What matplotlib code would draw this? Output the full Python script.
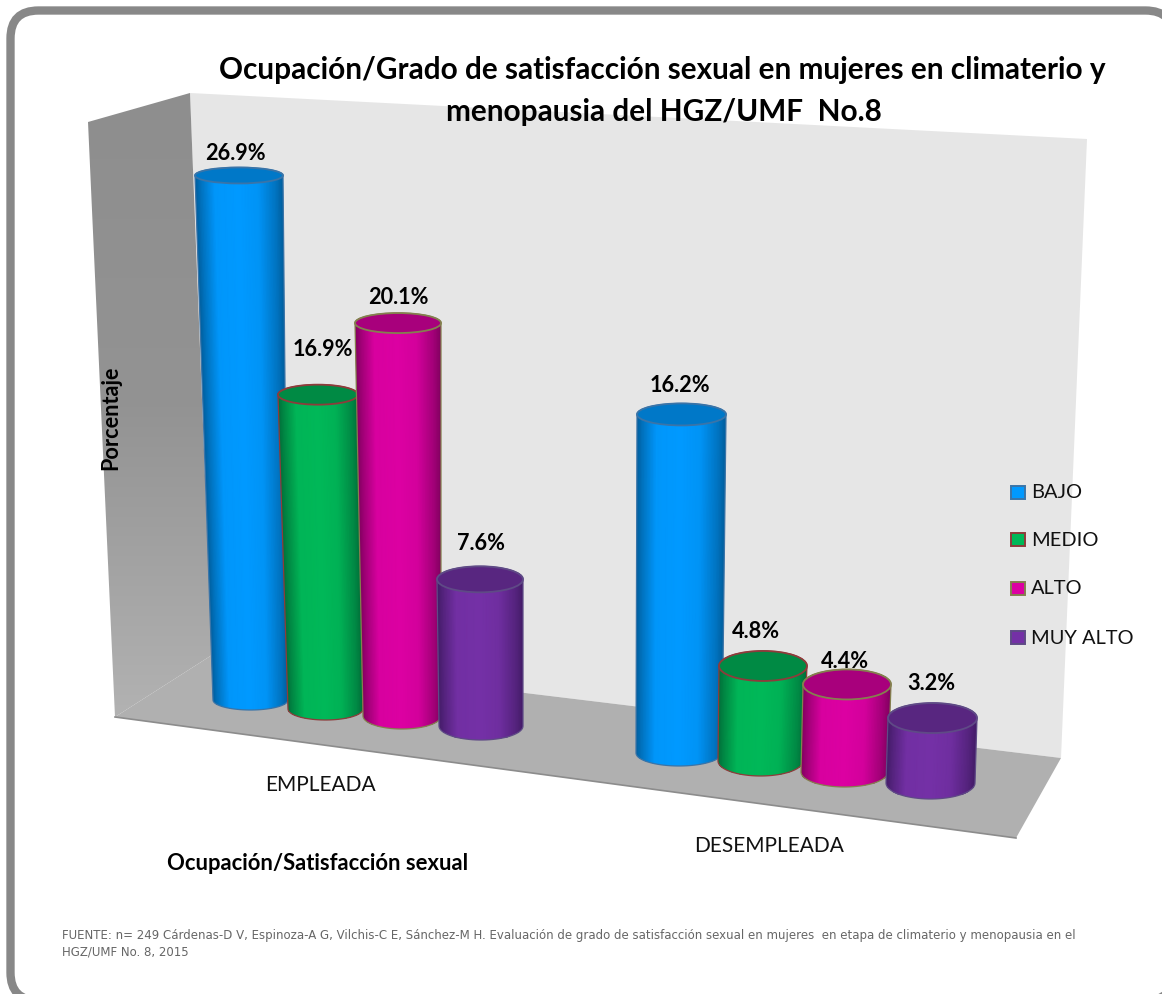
import numpy as np
import matplotlib
matplotlib.use("Agg")
import matplotlib.pyplot as plt
from matplotlib.colors import LinearSegmentedColormap
from matplotlib.patches import FancyBboxPatch, Polygon, PathPatch, Ellipse, Rectangle
from matplotlib.path import Path

# ---- data ----
categories = ["EMPLEADA", "DESEMPLEADA"]
series = ["BAJO", "MEDIO", "ALTO", "MUY ALTO"]
bajo = [26.9, 16.2]
medio = [16.9, 4.8]
alto = [20.1, 4.4]
muy_alto = [7.6, 3.2]

title = ("Ocupación/Grado de satisfacción sexual en mujeres en climaterio y",
         "menopausia del HGZ/UMF  No.8")
x_title = "Ocupación/Satisfacción sexual"
y_title = "Porcentaje"
source = ("FUENTE: n= 249 Cárdenas-D V, Espinoza-A G, Vilchis-C E, Sánchez-M H. Evaluación de grado de "
          "satisfacción sexual en mujeres  en etapa de climaterio y menopausia en el",
          "HGZ/UMF No. 8, 2015")

# ---- perspective layout, one row per series, one column per category ----
px_per_pct = [[19.5, 20.9], [18.6, 19.8], [19.55, 19.9], [19.3, 20.3]]
base_y = [[700, 753], [709, 761], [716, 772], [726, 783]]
top_edges = [[(195, 283), (637, 726)], [(278, 358), (719, 807)],
             [(355, 441), (803, 891)], [(437, 523), (888, 977)]]
bot_edges = [[(213, 288), (636, 722)], [(288, 363), (718, 803)],
             [(363, 441), (801, 888)], [(439, 523), (886, 975)]]
top_ry = [[8, 11], [10, 15], [10, 15], [13, 15]]
bot_ry = [[10, 13], [11, 15], [13, 15], [14, 16]]
label_xy = [[(235, 154), (680, 386)], [(323, 350), (756, 632)],
            [(398, 298), (845, 662)], [(481, 543), (931, 684)]]
values = [bajo, medio, alto, muy_alto]

palette = {
    "BAJO": ("#005F9E", "#0099FF", "#0078C8", "#3A74A8"),
    "MEDIO": ("#00703A", "#00B858", "#008A44", "#8E3B3B"),
    "ALTO": ("#820060", "#DC00A2", "#A8007C", "#84804E"),
    "MUY ALTO": ("#441C68", "#7430A6", "#582680", "#5F4A86"),
}

fig = plt.figure(figsize=(11.62, 9.94), dpi=100)
ax = fig.add_axes([0, 0, 1, 1])
ax.set_xlim(0, 1162)
ax.set_ylim(994, 0)
ax.axis("off")

LAT = "Lato"

# frame
ax.add_patch(FancyBboxPatch((10.5, 10.5), 1163, 990,
                            boxstyle="round,pad=0,rounding_size=28",
                            fc="white", ec="#888888", lw=6.0, zorder=0))

# back wall
ax.add_patch(Polygon([(190, 93), (1087, 139), (1061, 758), (212, 655)],
                     closed=True, fc="#E6E6E6", ec="none", zorder=1))
# side wall
side = Polygon([(88, 122), (190, 93), (212, 655), (115, 717)],
               closed=True, fc="none", ec="none", zorder=1)
ax.add_patch(side)
grad = np.linspace(0, 1, 64).reshape(-1, 1)
im = ax.imshow(grad, cmap=LinearSegmentedColormap.from_list("w", ["#8E8E8E", "#939393", "#B2B2B2"]),
               extent=(80, 220, 725, 90), aspect="auto", zorder=1)
im.set_clip_path(side)
ax.set_xlim(0, 1162)
ax.set_ylim(994, 0)
# floor
ax.add_patch(Polygon([(115, 717), (212, 655), (1061, 758), (1016, 838)],
                     closed=True, fc="#B0B0B0", ec="none", zorder=1))
ax.plot([115, 1016], [717, 838], color="#8C8C8C", lw=1.2, zorder=1)


def half_ellipse(cx, cy, rx, ry, a0, a1, n=40):
    t = np.linspace(a0, a1, n)
    return np.column_stack([cx + rx * np.cos(t), cy + ry * np.sin(t)])


z = 2.0
for c in range(len(categories)):
    for s, name in enumerate(series):
        value = values[s][c]
        yb = base_y[s][c]
        yt = yb - value * px_per_pct[s][c]
        (tl, tr), (bl, br) = top_edges[s][c], bot_edges[s][c]
        edge, mid, top, line = palette[name]
        tcx, trx = (tl + tr) / 2, (tr - tl) / 2
        bcx, brx = (bl + br) / 2, (br - bl) / 2
        try_, bry = top_ry[s][c], bot_ry[s][c]
        low = half_ellipse(bcx, yb, brx, bry, np.pi, 0)
        up = half_ellipse(tcx, yt, trx, try_, 0, -np.pi)
        verts = np.vstack([low, up, low[:1]])
        codes = [Path.MOVETO] + [Path.LINETO] * (len(verts) - 2) + [Path.CLOSEPOLY]
        body = PathPatch(Path(verts, codes), fc="none", ec=line, lw=0.9, zorder=z + 0.2)
        ax.add_patch(body)
        u = np.linspace(0, 1, 60)
        shade = np.interp(u, [0, 0.07, 0.22, 0.5, 0.72, 0.92, 1],
                          [0.0, 0.35, 0.95, 1.0, 0.9, 0.35, 0.0])
        ys = np.array([yt - try_ - 1, yb + bry + 1])
        f = (ys - yt) / (yb - yt)
        X = np.vstack([(tl + (bl - tl) * f[i]) + ((tr + (br - tr) * f[i]) - (tl + (bl - tl) * f[i])) * u
                       for i in range(2)])
        Y = np.column_stack([np.full(60, ys[0]), np.full(60, ys[1])]).T
        cm = LinearSegmentedColormap.from_list(name, [edge, mid])
        mesh = ax.pcolormesh(X, Y, np.vstack([shade, shade]), cmap=cm, vmin=0, vmax=1,
                             shading="gouraud", zorder=z + 0.1)
        mesh.set_clip_path(body)
        ax.add_patch(Ellipse((tcx, yt), 2 * trx, 2 * try_, fc=top, ec=line, lw=1.3, zorder=z + 0.3))
        lx, ly = label_xy[s][c]
        ax.text(lx, ly, f"{value:.1f}%", ha="center", va="center", family=LAT,
                fontweight="bold", fontsize=15.6, color="black", zorder=20)
        z += 1

# category labels
ax.text(320, 785, categories[0], ha="center", va="center", family=LAT, fontsize=15, color="#111111", zorder=20)
ax.text(769, 846, categories[1], ha="center", va="center", family=LAT, fontsize=15, color="#111111", zorder=20)
# titles
ax.text(662, 70, title[0], ha="center", va="center", family=LAT, fontweight="bold", fontsize=21.4, color="black", zorder=20)
ax.text(664, 112, title[1], ha="center", va="center", family=LAT, fontweight="bold", fontsize=21.4, color="black", zorder=20)
ax.text(318, 864, x_title, ha="center", va="center", family=LAT, fontweight="bold", fontsize=15.8, color="black", zorder=20)
ax.text(111, 418, y_title, ha="center", va="center", rotation=90, family=LAT, fontweight="bold", fontsize=15.6, color="black", zorder=20)

# legend
leg_y = [492, 539, 588, 637]
for name, y in zip(series, leg_y):
    edge, mid, top, line = palette[name]
    ax.add_patch(Rectangle((1011, y - 6.5), 13.5, 13.5, fc=mid, ec=line, lw=1.4, zorder=20))
    ax.text(1031, y + 1, name, ha="left", va="center", family=LAT, fontsize=14.4, color="#111111", zorder=20)

# source
ax.text(62, 936, source[0], ha="left", va="center", family="DejaVu Sans", fontsize=8.45, color="#666666", zorder=20)
ax.text(62, 952, source[1], ha="left", va="center", family="DejaVu Sans", fontsize=8.45, color="#666666", zorder=20)

fig.savefig("out.png", dpi=100)
